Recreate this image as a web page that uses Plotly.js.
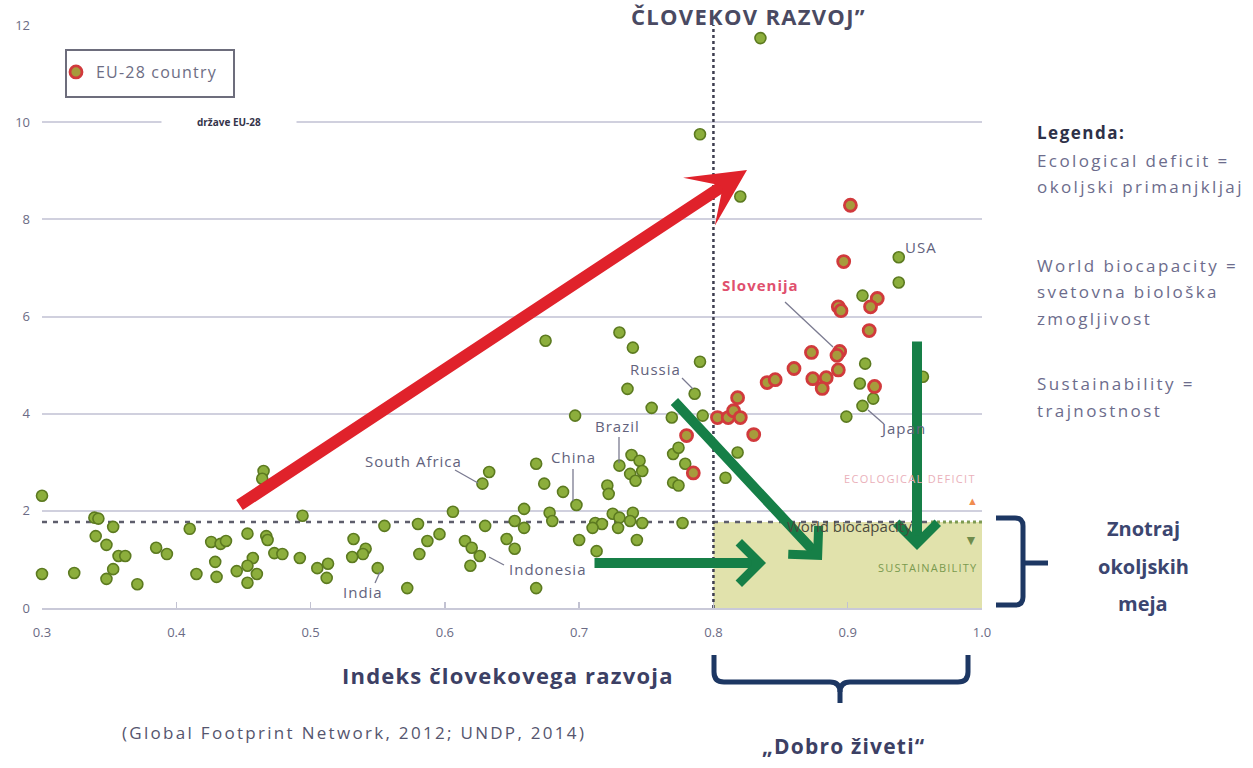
<!DOCTYPE html>
<html><head><meta charset="utf-8">
<script src="https://cdn.plot.ly/plotly-3.0.1.min.js"></script>
<style>html,body{margin:0;padding:0;background:#fff;}#chart{width:1253px;height:768px;}</style>
</head><body><div id="chart"></div>
<script>
// ---- data (HDI vs ecological footprint, gha per person) ----
const otherHDI = [0.300,0.300,0.324,0.339,0.342,0.353,0.340,0.348,0.357,0.362,0.353,0.348,0.371,0.385,0.393,0.410,0.415,0.426,0.433,0.437,0.429,0.430,0.445,0.453,0.457,0.453,0.460,0.453,0.465,0.464,0.467,0.468,0.473,0.479,0.492,0.494,0.505,0.513,0.512,0.532,0.541,0.539,0.531,0.550,0.555,0.572,0.580,0.581,
 0.675,0.730,0.740,0.790,0.786,0.736,0.754,0.697,0.769,0.792,0.668,0.633,0.628,0.674,0.688,0.698,0.739,0.730,0.745,0.747,0.738,0.742,0.721,0.722,0.770,0.774,0.779,0.770,0.774,0.809,0.818,0.606,0.659,0.678,0.680,0.652,0.659,0.630,0.596,0.587,0.615,0.620,0.626,0.619,0.646,0.652,0.700,0.713,0.712,0.717,0.710,0.725,0.730,0.740,0.738,0.729,0.747,0.743,0.668,0.777,
 0.820,0.790,0.835,0.938,0.938,0.911,0.913,0.909,0.919,0.911,0.899,0.956];
const otherFootprint = [2.31,0.70,0.72,1.86,1.84,1.67,1.48,1.30,1.07,1.07,0.80,0.60,0.49,1.24,1.11,1.63,0.70,1.36,1.32,1.38,0.95,0.64,0.76,1.53,1.03,0.87,0.70,0.52,2.82,2.66,1.48,1.40,1.13,1.11,1.03,1.90,0.82,0.91,0.62,1.42,1.22,1.11,1.05,0.82,1.69,0.41,1.73,1.11,
 5.50,5.67,5.36,5.07,4.41,4.51,4.12,3.96,3.92,3.96,2.97,2.80,2.56,2.56,2.39,2.12,3.15,2.93,3.03,2.82,2.76,2.62,2.52,2.35,3.17,3.30,2.97,2.58,2.52,2.68,3.20,1.98,2.04,1.96,1.79,1.79,1.65,1.69,1.52,1.38,1.38,1.24,1.07,0.87,1.42,1.22,1.40,1.17,1.75,1.73,1.65,1.94,1.86,1.96,1.79,1.65,1.75,1.40,0.41,1.75,
 8.47,9.75,11.73,7.22,6.70,6.43,5.03,4.62,4.31,4.16,3.94,4.76];
const euHDI = [0.780,0.785,0.803,0.811,0.815,0.818,0.820,0.830,0.902,0.897,0.922,0.917,0.893,0.895,0.916,0.894,0.892,0.873,0.893,0.860,0.874,0.884,0.881,0.840,0.846,0.920];
const euFootprint = [3.55,2.78,3.92,3.92,4.06,4.33,3.92,3.57,8.29,7.13,6.37,6.20,6.20,6.12,5.71,5.28,5.20,5.26,4.90,4.93,4.72,4.74,4.52,4.64,4.70,4.56];
const xTickVals = [0.3,0.4,0.5,0.6,0.7,0.8,0.9,1.0];
const xTickText = ['0.3','0.4','0.5','0.6','0.7','0.8','0.9','1.0'];
const yTickVals = [0,2,4,6,8,10,12];
const worldBiocapacity = 1.77;
const highHDI = 0.8;

// ---- geometry helpers (pixel -> paper) ----
const L = 42, R = 982, T = 25, B = 608, W = 1253, H = 768;
const px = x => (x - L) / (R - L);
const py = y => (B - y) / (B - T);
const F = 'Open Sans, sans-serif';
const LBL = '#62627c';
const sp = (t, s) => '<span style="letter-spacing:' + s + 'px">' + t + '</span>';

function txt(x, y, text, size, color, extra) {
  return Object.assign({xref:'paper', yref:'paper', x:px(x), y:py(y), text:text, showarrow:false,
    xanchor:'center', yanchor:'middle', font:{family:F, size:size, color:color}}, extra || {});
}
function arrow(tx, ty, hx, hy, color, width, head, size) {
  return {xref:'paper', yref:'paper', x:px(hx), y:py(hy), ax:tx - hx, ay:ty - hy, axref:'pixel', ayref:'pixel',
    text:'', showarrow:true, arrowcolor:color, arrowwidth:width, arrowhead:head, arrowsize:size, standoff:0, startstandoff:0};
}
function seg(x0, y0, x1, y1, color, width, dash) {
  return {type:'line', xref:'paper', yref:'paper', x0:px(x0), y0:py(y0), x1:px(x1), y1:py(y1),
    line:{color:color, width:width, dash:dash || 'solid'}, layer:'above'};
}
function pathPx(pts) {
  return pts.map((p, i) => (p[0] === 'Q' ? 'Q' + px(p[1]) + ',' + py(p[2]) + ' ' + px(p[3]) + ',' + py(p[4])
    : (i === 0 ? 'M' : 'L') + px(p[0]) + ',' + py(p[1]))).join(' ');
}

const traces = [
  {type:'scatter', mode:'markers', x:otherHDI, y:otherFootprint, showlegend:false, cliponaxis:false,
   marker:{size:11, color:'#8cae3c', line:{color:'#5c7a20', width:1.6}}},
  {type:'scatter', mode:'markers', x:euHDI, y:euFootprint, name:sp('EU-28 country', 1.2), cliponaxis:false,
   marker:{size:12, color:'#a79b3c', line:{color:'#d13a3c', width:2.8}}}
];

const NAVY = '#1d3763';
const shapes = [
  {type:'rect', xref:'x', yref:'y', x0:highHDI, x1:1.0, y0:0, y1:worldBiocapacity, fillcolor:'#e1e2ac', line:{width:0}, layer:'between'},
  {type:'line', xref:'x', yref:'y', x0:0.3, x1:0.962, y0:worldBiocapacity, y1:worldBiocapacity, line:{color:'#5e5e6c', width:2.5, dash:'5px,6px'}, layer:'between'},
  {type:'line', xref:'x', yref:'y', x0:0.962, x1:1.0, y0:worldBiocapacity, y1:worldBiocapacity, line:{color:'#7d9a52', width:3, dash:'dot'}, layer:'between'},
  {type:'line', xref:'x', yref:'y', x0:highHDI, x1:highHDI, y0:0, y1:12, line:{color:'#3e3e50', width:2.5, dash:'dot'}, layer:'between'},
  // legend box
  {type:'rect', xref:'paper', yref:'paper', x0:px(66), x1:px(234), y0:py(97), y1:py(50), line:{color:'#6d6d7c', width:2}, fillcolor:'rgba(0,0,0,0)'},
  // leader lines
  seg(455, 470, 478, 483, '#7a7a90', 1.3),
  seg(573, 469, 573, 501, '#7a7a90', 1.3),
  seg(619, 437, 619, 463, '#7a7a90', 1.3),
  seg(682, 378, 693, 389, '#7a7a90', 1.3),
  seg(504, 565, 489, 557, '#7a7a90', 1.3),
  seg(375, 583, 380, 572, '#7a7a90', 1.3),
  seg(785, 302, 833, 347, '#7a7a90', 1.3),
  seg(868, 410, 884, 424, '#7a7a90', 1.3),
  // bottom brace "Dobro živeti"
  {type:'path', xref:'paper', yref:'paper', line:{color:NAVY, width:5},
   path: pathPx([[714,655],[714,672],['Q',714,682,724,682],[830,682],['Q',840,682,840,692],[840,703]])},
  {type:'path', xref:'paper', yref:'paper', line:{color:NAVY, width:5},
   path: pathPx([[968,655],[968,672],['Q',968,682,958,682],[850,682],['Q',840,682,840,692]])},
  // right brace "Znotraj okoljskih meja"
  {type:'path', xref:'paper', yref:'paper', line:{color:NAVY, width:5},
   path: pathPx([[996,518],[1015,518],['Q',1023,518,1023,526],[1023,597],['Q',1023,605,1015,605],[996,605]])},
  seg(1023, 563, 1048, 563, NAVY, 5)
];
shapes.forEach(s => { if (s.type === 'path' || (s.type === 'line' && s.xref === 'paper')) s.layer = 'above'; });

const RED = '#e0222b', GREEN = '#167f47';
const RT = '#6c6c8c';
const annotations = [
  // arrows
  arrow(238, 506, 747, 170, RED, 12, 3, 0.8),
  arrow(593, 563, 766, 563, GREEN, 10, 4, 0.8),
  arrow(673, 400, 822, 560, GREEN, 10, 4, 0.8),
  arrow(917, 340, 917, 550, GREEN, 10, 4, 0.8),
  // zone texts
  txt(910, 478, sp('ECOLOGICAL DEFICIT', 1.3), 11, '#eab0ba'),
  txt(785, 526, 'World biocapacity', 15, '#4b4b3c', {xanchor:'left'}),
  txt(927, 567, sp('SUSTAINABILITY', 1.2), 11, '#7a9a4e'),
  txt(972, 500, '▲', 11, '#f08c50'),
  txt(971, 539, '▼', 14, '#6f8c4c'),
  // country labels
  txt(413, 461, sp('South Africa', 1), 15, LBL),
  txt(573, 457, sp('China', 1), 15, LBL),
  txt(617, 426, sp('Brazil', 1), 15, LBL),
  txt(655, 369, sp('Russia', 1), 15, LBL),
  txt(547, 569, sp('Indonesia', 1), 15, LBL),
  txt(363, 592, sp('India', 1), 15, LBL),
  txt(760, 285, '<b>' + sp('Slovenija', 1) + '</b>', 15, '#e0506e'),
  txt(921, 247, sp('USA', 1), 15, LBL),
  txt(903, 428, sp('Japan', 1), 15, LBL),
  // legend sub-label
  {xref:'paper', yref:'paper', x:px(229), y:py(122), text:'<b>države EU-28</b>', showarrow:false, xanchor:'center', yanchor:'middle',
   bgcolor:'#ffffff', width:132, height:14, font:{family:F, size:10, color:'#34344a'}},
  // top title (clipped in reference)
  txt(748, 16, '<b>' + sp('ČLOVEKOV RAZVOJ”', 1.3) + '</b>', 22, '#4a4a62'),
  // right legend text block
  txt(1035, 132, '<b>' + sp('Legenda:', 1.5) + '</b>', 17, '#2e3148', {xanchor:'left'}),
  txt(1035, 160, sp('Ecological deficit =', 2.4), 17, RT, {xanchor:'left'}),
  txt(1035, 186, sp('okoljski primanjkljaj', 2.4), 17, RT, {xanchor:'left'}),
  txt(1035, 265, sp('World biocapacity =', 2.4), 17, RT, {xanchor:'left'}),
  txt(1035, 291, sp('svetovna biološka', 2.4), 17, RT, {xanchor:'left'}),
  txt(1035, 318, sp('zmogljivost', 2.4), 17, RT, {xanchor:'left'}),
  txt(1035, 383, sp('Sustainability =', 2.4), 17, RT, {xanchor:'left'}),
  txt(1035, 410, sp('trajnostnost', 2.4), 17, RT, {xanchor:'left'}),
  // right brace label
  txt(1143, 528, '<b>Znotraj</b>', 20, '#3c4670'),
  txt(1143, 566, '<b>okoljskih</b>', 20, '#3c4670'),
  txt(1143, 603, '<b>meja</b>', 20, '#3c4670'),
  // bottom texts
  txt(508, 675, '<b>' + sp('Indeks človekovega razvoja', 1.2) + '</b>', 22, '#3c4064'),
  txt(120, 732, sp('(Global Footprint Network, 2012; UNDP, 2014)', 2.3), 17, '#55556e', {xanchor:'left'}),
  txt(843, 746, '<b>' + sp('„Dobro živeti“', 1.2) + '</b>', 21, '#3c4064')
];

const layout = {
  width:W, height:H, margin:{l:L, r:W - R, t:T, b:H - B},
  paper_bgcolor:'#ffffff', plot_bgcolor:'#ffffff',
  font:{family:F},
  xaxis:{range:[0.3, 1.0], tickvals:xTickVals, ticktext:xTickText, showgrid:false, zeroline:false,
    showline:true, linecolor:'#c9c9d8', linewidth:2, ticks:'inside', ticklen:6, tickwidth:1.5, tickcolor:'#c2c2d2',
    tickfont:{family:F, size:13, color:'#6b6b85'}, ticklabelstandoff:11, fixedrange:true},
  yaxis:{range:[0, 12], tickvals:yTickVals, showgrid:true, gridcolor:'#d0d0de', gridwidth:2, zeroline:false,
    showline:false, ticks:'', tickfont:{family:F, size:13, color:'#6b6b85'}, ticklabelstandoff:11, fixedrange:true},
  showlegend:true,
  legend:{x:px(56), y:py(55), xanchor:'left', yanchor:'top', bgcolor:'rgba(0,0,0,0)', borderwidth:0,
    font:{family:F, size:16, color:'#6d6d84'}, itemwidth:30},
  shapes:shapes, annotations:annotations
};

Plotly.newPlot('chart', traces, layout, {staticPlot:true, displayModeBar:false});
</script>
</body></html>
